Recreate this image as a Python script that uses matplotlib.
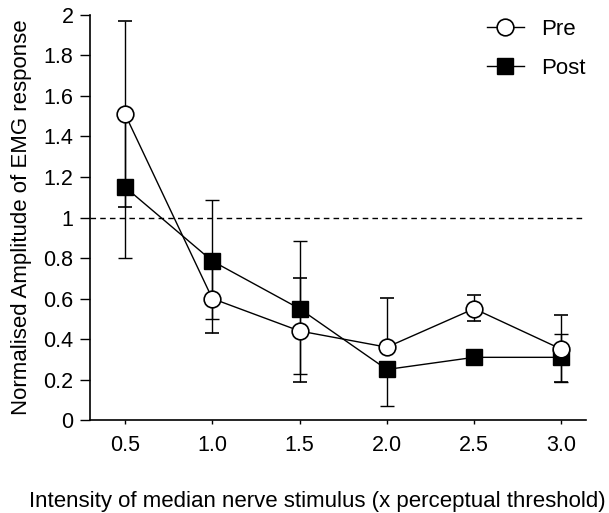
import numpy as np
from matplotlib import pyplot as plt
from matplotlib.lines import Line2D

plt.rcParams['font.family'] = ['Liberation Sans', 'DejaVu Sans']

# stimulus intensity (x perceptual threshold)
intensity = [0.5, 1.0, 1.5, 2.0, 2.5, 3.0]
xticklabels = ['0.5', '1.0', '1.5', '2.0', '2.5', '3.0']

# normalised EMG amplitude, mean and error (lower / upper)
pre_mean = [1.51, 0.60, 0.44, 0.36, 0.55, 0.35]
pre_err_lo = [0.46, 0.17, 0.25, 0.0, 0.06, 0.16]
pre_err_hi = [0.46, 0.17, 0.26, 0.245, 0.07, 0.17]
post_mean = [1.15, 0.785, 0.55, 0.25, 0.31, 0.31]
post_err_lo = [0.35, 0.285, 0.32, 0.18, 0.03, 0.12]
post_err_hi = [0.35, 0.30, 0.335, 0.0, 0.03, 0.115]


def main():
    fig = plt.figure(figsize=(6.09, 5.13), dpi=100)
    ax = fig.add_axes([0.148, 0.181, 0.814, 0.790])

    ax.axhline(1.0, color='black', lw=1, ls=(0, (4, 3)))

    ax.errorbar(intensity, post_mean, yerr=[post_err_lo, post_err_hi],
                color='black', lw=1, marker='s', ms=12, mfc='black',
                mec='black', capsize=5, capthick=1, elinewidth=1, zorder=3)
    ax.errorbar(intensity, pre_mean, yerr=[pre_err_lo, pre_err_hi],
                color='black', lw=1, marker='o', ms=12, mfc='white',
                mec='black', mew=1.2, capsize=5, capthick=1, elinewidth=1,
                zorder=4)

    ax.set_xlim(0.3, 3.14)
    ax.set_ylim(0, 2)
    ax.set_xticks(intensity)
    ax.set_xticklabels(xticklabels)
    ax.set_yticks(np.arange(0, 2.01, 0.2))
    ax.set_yticklabels(['0', '0.2', '0.4', '0.6', '0.8', '1', '1.2', '1.4',
                        '1.6', '1.8', '2'])
    ax.tick_params(axis='y', direction='out', length=7, width=1,
                   labelsize=15.5, pad=5)
    ax.tick_params(axis='x', direction='out', length=3, width=1,
                   labelsize=15.5, pad=8)
    ax.spines['top'].set_visible(False)
    ax.spines['right'].set_visible(False)
    ax.spines['left'].set_linewidth(1.2)
    ax.spines['bottom'].set_linewidth(1.2)

    ax.set_ylabel('Normalised Amplitude of EMG response', fontsize=16,
                  va='center')
    ax.yaxis.set_label_coords(-0.139, 0.5)
    ax.set_xlabel('Intensity of median nerve stimulus (x perceptual threshold)',
                  fontsize=16, va='center')
    ax.xaxis.set_label_coords(0.458, -0.2)

    handles = [
        Line2D([], [], color='black', lw=1, marker='o', ms=12, mfc='white',
               mec='black', mew=1.2),
        Line2D([], [], color='black', lw=1, marker='s', ms=12, mfc='black',
               mec='black'),
    ]
    ax.legend(handles, ['Pre', 'Post'], loc='upper right', frameon=False,
              fontsize=16, handlelength=1.66, handletextpad=0.8,
              labelspacing=0.8, borderpad=0, borderaxespad=0,
              bbox_to_anchor=(1.0, 0.99))

    fig.savefig('out.png', dpi=100)


if __name__ == '__main__':
    main()
